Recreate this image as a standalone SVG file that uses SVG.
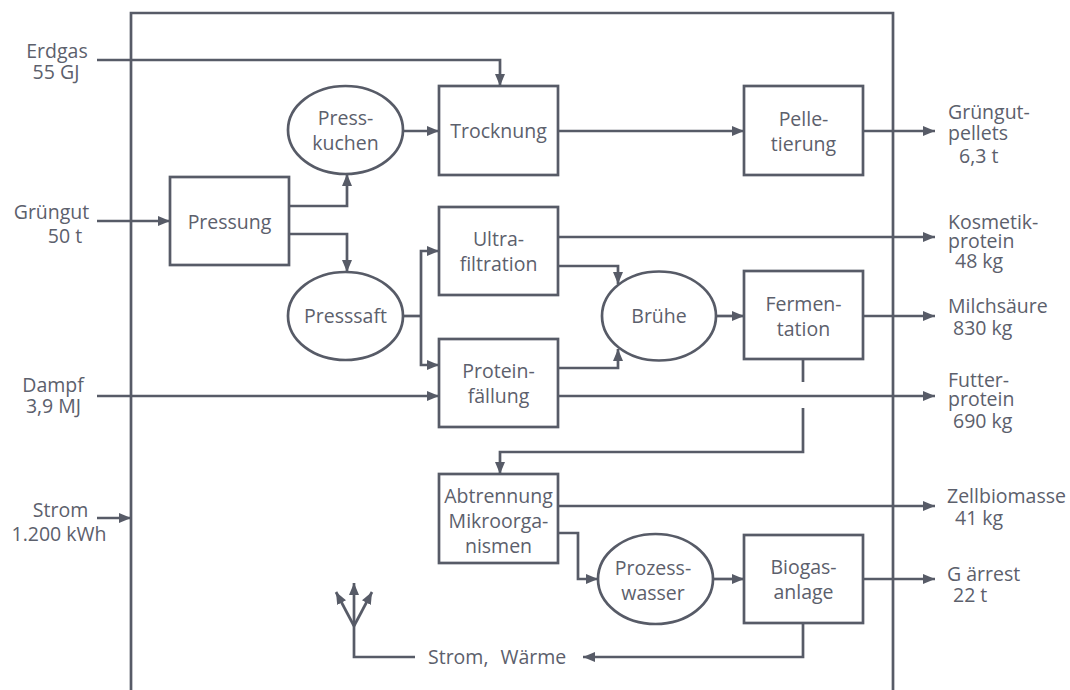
<svg xmlns="http://www.w3.org/2000/svg" width="1070" height="690" viewBox="0 0 1070 690">
<style>
.ln{fill:none;stroke:#575b67;stroke-width:2.7}
.ar{marker-end:url(#ah)}
.nd{fill:#ffffff;stroke:#575b67;stroke-width:2.7}
text{font-family:"Open Sans","Noto Sans","Liberation Sans",sans-serif;font-size:19.5px;fill:#5c606c}
.c{text-anchor:middle}
</style>
<defs>
<marker id="ah" markerUnits="userSpaceOnUse" markerWidth="12" markerHeight="10" refX="12" refY="5" orient="auto">
<path d="M0,0 L12,5 L0,10 Z" fill="#575b67"/>
</marker>
</defs>
<rect width="1070" height="690" fill="#ffffff"/>
<g id="frame"><path class="ln" d="M131,700 V13 H893 V700"/></g>
<g id="connectors">
<path class="ln ar" d="M97,60 H500 V86"/>
<path class="ln ar" d="M97,221 H170"/>
<path class="ln ar" d="M289,206 H347 V174"/>
<path class="ln ar" d="M289,234 H347 V272"/>
<path class="ln ar" d="M403,131 H439"/>
<path class="ln ar" d="M558,131 H744"/>
<path class="ln ar" d="M863,131 H935"/>
<path class="ln" d="M403,316 H421"/>
<path class="ln ar" d="M421,316 V251 H439"/>
<path class="ln ar" d="M421,316 V365 H439"/>
<path class="ln ar" d="M558,237 H935"/>
<path class="ln ar" d="M558,266 H618 V284"/>
<path class="ln ar" d="M558,368 H618 V349"/>
<path class="ln ar" d="M97,396 H439"/>
<path class="ln ar" d="M558,396 H935"/>
<path class="ln ar" d="M716,316 H744"/>
<path class="ln ar" d="M863,316 H935"/>
<path class="ln" d="M803,359 V382"/>
<path class="ln ar" d="M803,408 V452 H500 V474"/>
<path class="ln ar" d="M558,506 H935"/>
<path class="ln ar" d="M558,533 H578 V579 H598"/>
<path class="ln ar" d="M713,579 H744"/>
<path class="ln ar" d="M863,579 H935"/>
<path class="ln ar" d="M803,623 V657 H583"/>
<path class="ln" d="M415,657 H354 V626"/>
<path class="ln ar" d="M354,626 V583"/>
<path class="ln ar" d="M354,626 L336,592"/>
<path class="ln ar" d="M354,626 L372,592"/>
<path class="ln ar" d="M97,518 H131"/>
</g>
<g id="pressung"><rect class="nd" x="170" y="177" width="119" height="88"/><text class="c" x="229.5" y="228.5">Pressung</text></g>
<g id="presskuchen"><ellipse class="nd" cx="345.5" cy="130" rx="57.5" ry="44"/><text class="c" x="345.5" y="124.5">Press-</text><text class="c" x="345.5" y="149.5">kuchen</text></g>
<g id="presssaft"><ellipse class="nd" cx="345.5" cy="316" rx="57.5" ry="44"/><text class="c" x="345.5" y="323">Presssaft</text></g>
<g id="trocknung"><rect class="nd" x="439" y="86" width="119" height="89"/><text class="c" x="498.5" y="138">Trocknung</text></g>
<g id="pelletierung"><rect class="nd" x="744" y="86" width="119" height="89"/><text class="c" x="803.5" y="125.5">Pelle-</text><text class="c" x="803.5" y="150.5">tierung</text></g>
<g id="ultrafiltration"><rect class="nd" x="439" y="207" width="119" height="88"/><text class="c" x="498.5" y="245.5">Ultra-</text><text class="c" x="498.5" y="270.5">filtration</text></g>
<g id="proteinfaellung"><rect class="nd" x="439" y="339" width="119" height="88"/><text class="c" x="498.5" y="377.5">Protein-</text><text class="c" x="498.5" y="402.5">fällung</text></g>
<g id="bruehe"><ellipse class="nd" cx="659" cy="316" rx="57" ry="44.5"/><text class="c" x="659" y="323">Brühe</text></g>
<g id="fermentation"><rect class="nd" x="744" y="271" width="119" height="88"/><text class="c" x="803.5" y="310.5">Fermen-</text><text class="c" x="803.5" y="335.5">tation</text></g>
<g id="abtrennung"><rect class="nd" x="439" y="474" width="119" height="89"/><text class="c" x="498.5" y="503">Abtrennung</text><text class="c" x="498.5" y="528">Mikroorga-</text><text class="c" x="498.5" y="553">nismen</text></g>
<g id="prozesswasser"><ellipse class="nd" cx="655.5" cy="579" rx="57.5" ry="45"/><text class="c" x="653" y="574.5">Prozess-</text><text class="c" x="653" y="599.5">wasser</text></g>
<g id="biogasanlage"><rect class="nd" x="744" y="535" width="119" height="88"/><text class="c" x="803.5" y="573.5">Biogas-</text><text class="c" x="803.5" y="598.5">anlage</text></g>
<g id="strom-waerme"><text x="428" y="664" word-spacing="7">Strom, Wärme</text></g>
<g id="inputs">
<text class="c" x="57" y="58">Erdgas</text><text class="c" x="56" y="79">55 GJ</text>
<text class="c" x="51.5" y="219">Grüngut</text><text class="c" x="65" y="243">50 t</text>
<text class="c" x="53" y="392">Dampf</text><text class="c" x="53.5" y="413">3,9 MJ</text>
<text class="c" x="60.5" y="517">Strom</text><text class="c" x="59" y="541">1.200 kWh</text>
</g>
<g id="outputs">
<text x="948" y="119">Grüngut-</text><text x="948" y="140">pellets</text><text x="959" y="163">6,3 t</text>
<text x="948" y="229">Kosmetik-</text><text x="948" y="248">protein</text><text x="955" y="268">48 kg</text>
<text x="948" y="313">Milchsäure</text><text x="953" y="335">830 kg</text>
<text x="948" y="387">Futter-</text><text x="948" y="406">protein</text><text x="953" y="428">690 kg</text>
<text x="947" y="503">Zellbiomasse</text><text x="955" y="525">41 kg</text>
<text x="947" y="581">G ärrest</text><text x="953" y="602">22 t</text>
</g>
</svg>
